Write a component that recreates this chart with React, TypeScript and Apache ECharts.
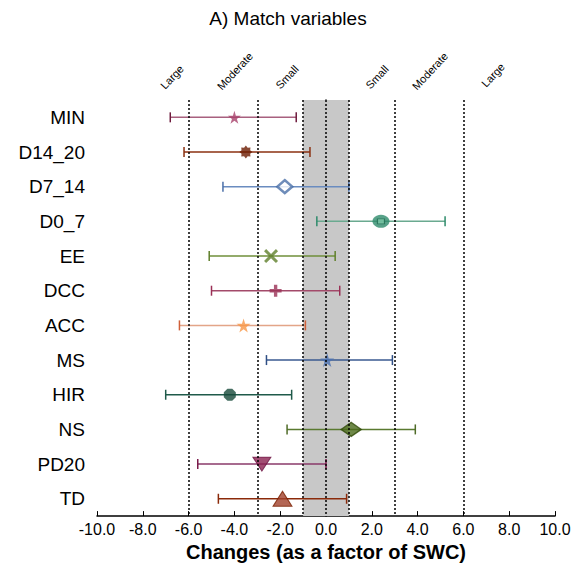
import React, { useEffect, useRef } from "react";
import * as echarts from "echarts";

const categories = ["MIN", "D14_20", "D7_14", "D0_7", "EE", "DCC", "ACC", "MS", "HIR", "NS", "PD20", "TD"];
const means = [-4.0, -3.5, -1.8, 2.4, -2.4, -2.2, -3.6, 0.05, -4.2, 1.1, -2.8, -1.9];
const lower = [-6.8, -6.2, -4.5, -0.4, -5.1, -5.0, -6.4, -2.6, -7.0, -1.7, -5.6, -4.7];
const upper = [-1.3, -0.7, 1.0, 5.2, 0.4, 0.6, -0.9, 2.9, -1.5, 3.9, 0.0, 0.9];
const thresholds = [-6, -3, -1, 0, 1, 3, 6];
const trivialBand = [-1, 1];
const effectLabels = ["Large", "Moderate", "Small", "Small", "Moderate", "Large"];

const lineColors = ["#a8607f", "#8b3010", "#6a8cc0", "#6aaa90", "#6f8f3a", "#a34a6a", "#e3a588", "#3a5a90", "#1f5a4a", "#5a7a30", "#8a3a6a", "#8b2a0a"];
const capColors = ["#6e1b3d", "#8b3010", "#4a6fa8", "#2e8b6b", "#5f7f2a", "#9a2f55", "#d0603a", "#2f4f85", "#1f5a4a", "#4f6b28", "#7a1a4a", "#8b2a0a"];

const STAR = "path://M50,0 L61,35 L98,35 L68,57 L79,91 L50,70 L21,91 L32,57 L2,35 L39,35 Z";
const BLOB = "path://M100,50 L83.3,63.8 L85.4,85.4 L63.8,83.3 L50,100 L36.2,83.3 L14.6,85.4 L16.7,63.8 L0,50 L16.7,36.2 L14.6,14.6 L36.2,16.7 L50,0 L63.8,16.7 L85.4,14.6 L83.3,36.2 Z";
const XMARK = "path://M0,15 L15,0 L50,35 L85,0 L100,15 L65,50 L100,85 L85,100 L50,65 L15,100 L0,85 L35,50 Z";
const PLUS = "path://M36,0 H64 V36 H100 V64 H64 V100 H36 V64 H0 V36 H36 Z";
const OCT = "path://M30,0 H70 L100,30 V70 L70,100 H30 L0,70 V30 Z";
const DOWN = "path://M0,0 H100 L50,85 Z";

const markerStyles: any[] = [
  { symbol: STAR, symbolSize: 13, itemStyle: { color: "#a8406a" } },
  { symbol: BLOB, symbolSize: 13, itemStyle: { color: "#6b1a00" } },
  { symbol: "diamond", symbolSize: [15, 13], itemStyle: { color: "#ffffff", borderColor: "#4a6fa8", borderWidth: 2.5 } },
  { symbol: "circle", symbolSize: [17, 13], itemStyle: { color: "#2e8b6b" } },
  { symbol: XMARK, symbolSize: 14, itemStyle: { color: "#5f7f2a" } },
  { symbol: PLUS, symbolSize: 12, itemStyle: { color: "#9a2f55" } },
  { symbol: STAR, symbolSize: 14, itemStyle: { color: "#f79646" } },
  { symbol: STAR, symbolSize: 14, itemStyle: { color: "#4a70b0" } },
  { symbol: OCT, symbolSize: 12, itemStyle: { color: "#174a3a" } },
  { symbol: "diamond", symbolSize: [20, 14], itemStyle: { color: "#4a6a1a", borderColor: "#2f4a08", borderWidth: 1.5 } },
  { symbol: DOWN, symbolSize: [18, 14], itemStyle: { color: "#8a2050", borderColor: "#6a1040", borderWidth: 1 } },
  { symbol: "triangle", symbolSize: [19, 15], itemStyle: { color: "#a0402a", borderColor: "#7a2000", borderWidth: 1 } },
];

const FONT = "'Liberation Sans', Arial, sans-serif";

export default function App() {
  const ref = useRef<HTMLDivElement>(null);
  useEffect(() => {
    if (!ref.current) return;
    const chart = echarts.init(ref.current, null, { renderer: "svg" });

    const labelPos = [
      [172, 77], [235, 71], [287, 77], [377, 77], [430, 71], [493, 75],
    ];

    const option: any = {
      animation: false,
      backgroundColor: "#ffffff",
      grid: { left: 97, right: 19, top: 100, bottom: 49 },
      xAxis: {
        type: "value",
        min: -10,
        max: 10,
        interval: 2,
        name: "Changes (as a factor of SWC)",
        nameLocation: "middle",
        nameGap: 23,
        nameTextStyle: { fontFamily: FONT, fontSize: 20, fontWeight: "bold", color: "#000" },
        axisLine: { show: true, lineStyle: { color: "#000", width: 1.5 } },
        axisTick: { show: true, inside: true, length: 5, lineStyle: { color: "#000", width: 1 } },
        axisLabel: { formatter: (v: number) => v.toFixed(1), fontFamily: FONT, fontSize: 16, color: "#000", margin: 5 },
        splitLine: { show: false },
      },
      yAxis: {
        type: "category",
        data: categories,
        inverse: true,
        axisLine: { show: true, lineStyle: { color: "#000", width: 1.5 } },
        axisTick: { show: true, alignWithLabel: true, length: 5, lineStyle: { color: "#000", width: 1 } },
        axisLabel: { fontFamily: FONT, fontSize: 19, color: "#000", margin: 12 },
        splitLine: { show: false },
      },
      graphic: [
        {
          type: "text",
          x: 288,
          y: 18,
          style: { text: "A) Match variables", fontFamily: FONT, fontSize: 19, fill: "#000", align: "center", verticalAlign: "middle" },
        },
        ...effectLabels.map((t, i) => ({
          type: "text",
          x: labelPos[i][0],
          y: labelPos[i][1],
          rotation: (47 * Math.PI) / 180,
          style: { text: t, fontFamily: FONT, fontSize: 11, fill: "#000", align: "center", verticalAlign: "middle" },
        })),
      ],
      series: [
        {
          type: "line",
          name: "ref",
          data: [],
          z: 0,
          silent: true,
          markArea: {
            silent: true,
            itemStyle: { color: "#c8c8c8" },
            data: [[{ xAxis: trivialBand[0] }, { xAxis: trivialBand[1] }]],
          },
          markLine: {
            silent: true,
            symbol: ["none", "none"],
            label: { show: false },
            lineStyle: { type: [2, 2], color: "#000", width: 1.5 },
            data: thresholds.map((t) => ({ xAxis: t })),
          },
        },
        {
          type: "custom",
          name: "err",
          z: 3,
          encode: { x: [0, 1], y: 2 },
          data: categories.map((c, i) => [lower[i], upper[i], i]),
          renderItem: (params: any, api: any) => {
            const i = params.dataIndex;
            const lo = api.coord([api.value(0), api.value(2)]);
            const hi = api.coord([api.value(1), api.value(2)]);
            const h = 5;
            return {
              type: "group",
              children: [
                { type: "line", shape: { x1: lo[0], y1: lo[1], x2: hi[0], y2: hi[1] }, style: { stroke: lineColors[i], lineWidth: 1.5 } },
                { type: "line", shape: { x1: lo[0], y1: lo[1] - h, x2: lo[0], y2: lo[1] + h }, style: { stroke: capColors[i], lineWidth: 1.5 } },
                { type: "line", shape: { x1: hi[0], y1: hi[1] - h, x2: hi[0], y2: hi[1] + h }, style: { stroke: capColors[i], lineWidth: 1.5 } },
              ],
            };
          },
        },
        {
          type: "scatter",
          name: "means",
          z: 4,
          data: categories.map((c, i) => ({ value: [means[i], c], ...markerStyles[i] })),
        },
        {
          type: "scatter",
          name: "inner",
          z: 5,
          symbol: "rect",
          symbolSize: [7, 5],
          itemStyle: { color: "#7ec8a8", borderColor: "#1f6a50", borderWidth: 1 },
          data: [[means[3], categories[3]]],
        },
      ],
    };
    chart.setOption(option);
    return () => chart.dispose();
  }, []);
  return <div ref={ref} style={{ position: "fixed", left: 0, top: 0, width: 574, height: 567 }} />;
}
